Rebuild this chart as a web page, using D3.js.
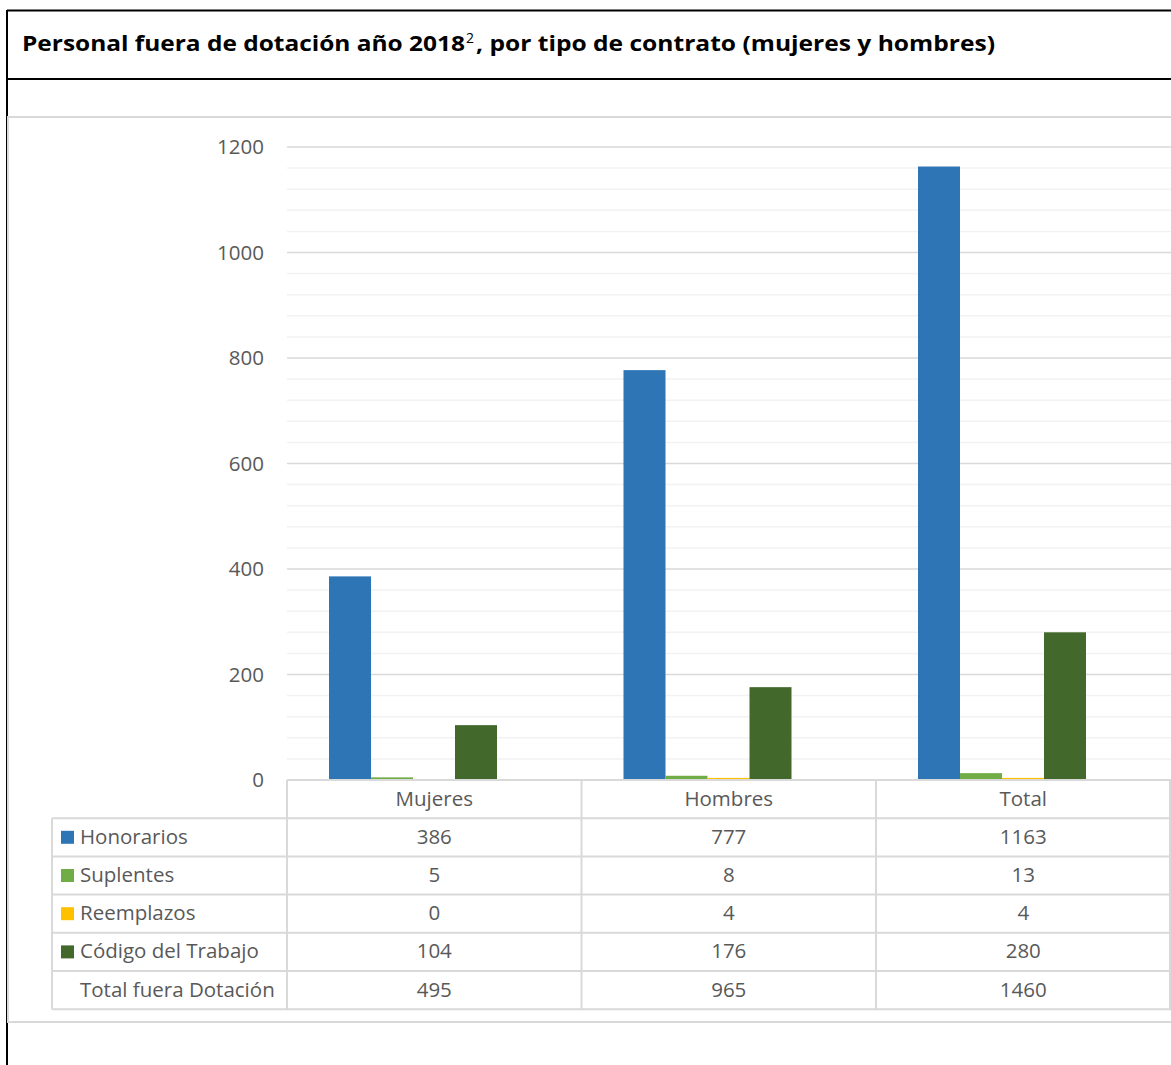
<!DOCTYPE html>
<html><head><meta charset="utf-8">
<script src="https://cdn.jsdelivr.net/npm/d3@7"></script>
<style>
html,body{margin:0;padding:0;background:#fff;}
svg{display:block;}
text{font-family:"Open Sans",Lato,sans-serif;}
</style></head>
<body>
<svg id="c" width="1171" height="1065"></svg>
<script>
const categories = ["Mujeres", "Hombres", "Total"];
const seriesNames = ["Honorarios", "Suplentes", "Reemplazos", "Código del Trabajo"];
const honorarios = [386, 777, 1163];
const suplentes = [5, 8, 13];
const reemplazos = [0, 4, 4];
const codigoTrabajo = [104, 176, 280];
const totalFuera = [495, 965, 1460];
const totalLabel = "Total fuera Dotación";
const yTickValues = [0, 200, 400, 600, 800, 1000, 1200];
const minorStep = 40;
const seriesColors = ["#2E75B6", "#70AD47", "#FFC000", "#43682B"];

const seriesValues = [honorarios, suplentes, reemplazos, codigoTrabajo];
const FONT = "'Open Sans',Lato,sans-serif";
const bodySize = 20.5;

const svg = d3.select("#c");

// outer frame
svg.append("line").attr("x1", 7).attr("x2", 1171).attr("y1", 10.5).attr("y2", 10.5).attr("stroke", "#000").attr("stroke-width", 2);
svg.append("line").attr("x1", 7).attr("x2", 1171).attr("y1", 79).attr("y2", 79).attr("stroke", "#000").attr("stroke-width", 2);
svg.append("line").attr("x1", 7).attr("x2", 7).attr("y1", 10).attr("y2", 1065).attr("stroke", "#000").attr("stroke-width", 2);

// chart area
svg.append("rect").attr("x", 8).attr("y", 117).attr("width", 1170).attr("height", 905)
  .attr("fill", "#fff").attr("stroke", "#d9d9d9").attr("stroke-width", 2);

// title
svg.append("text").attr("x", 22).attr("y", 51).attr("font-size", 22).attr("font-weight", "bold").attr("fill", "#000")
  .attr("textLength", 443).attr("lengthAdjust", "spacingAndGlyphs")
  .text("Personal fuera de dotación año 2018");
svg.append("text").attr("x", 466).attr("y", 43).attr("font-size", 14).attr("fill", "#000")
  .attr("textLength", 8).attr("lengthAdjust", "spacingAndGlyphs").text("2");
svg.append("text").attr("x", 476).attr("y", 51).attr("font-size", 22).attr("font-weight", "bold").attr("fill", "#000")
  .attr("textLength", 519).attr("lengthAdjust", "spacingAndGlyphs")
  .text(", por tipo de contrato (mujeres y hombres)");

const plotLeft = 287, plotRight = 1171;
const x = d3.scaleBand().domain(categories).range([plotLeft, 1170.5]);
const y = d3.scaleLinear().domain([0, 1200]).range([780, 147]);
const barW = 42;
const x1 = d3.scaleBand().domain(seriesNames).range([barW, barW * 5]);

// minor gridlines
svg.append("g").selectAll("line").data(d3.range(0, 1201, minorStep).filter(v => v % 200 !== 0))
  .join("line").attr("x1", plotLeft).attr("x2", plotRight).attr("y1", d => y(d)).attr("y2", d => y(d))
  .attr("stroke", "#f2f2f2").attr("stroke-width", 1.5);
// major gridlines
svg.append("g").selectAll("line").data(yTickValues)
  .join("line").attr("x1", plotLeft).attr("x2", plotRight).attr("y1", d => y(d)).attr("y2", d => y(d))
  .attr("stroke", "#d9d9d9").attr("stroke-width", 1.5);

// y axis
const yAxis = svg.append("g").attr("transform", `translate(${plotLeft},0)`)
  .call(d3.axisLeft(y).tickValues(yTickValues).tickFormat(d3.format("d")).tickSize(0).tickPadding(23));
yAxis.select(".domain").remove();
yAxis.selectAll("text").attr("font-size", bodySize).attr("fill", "#595959").attr("font-family", FONT);

// bars
const groups = svg.append("g").selectAll("g").data(categories).join("g")
  .attr("transform", d => `translate(${x(d)},0)`);
groups.selectAll("rect").data((c, ci) => seriesNames.map((s, si) => ({ s, si, v: seriesValues[si][ci] })))
  .join("rect")
  .attr("x", d => x1(d.s)).attr("width", x1.bandwidth())
  .attr("y", d => y(d.v)).attr("height", d => y(0) - y(d.v))
  .attr("fill", d => seriesColors[d.si]);

// data table
const rowH = 38.2;
const tableTop = 780;
const legendLeft = 52;
const gridColor = "#d9d9d9";
const tg = svg.append("g");
const nRows = seriesNames.length + 1;
const tableBottom = tableTop + rowH * (nRows + 1);
tg.append("line").attr("x1", plotLeft).attr("x2", plotRight).attr("y1", tableTop).attr("y2", tableTop).attr("stroke", gridColor).attr("stroke-width", 2);
for (let i = 1; i <= nRows + 1; i++) {
  const yy = tableTop + rowH * i;
  tg.append("line").attr("x1", legendLeft).attr("x2", plotRight).attr("y1", yy).attr("y2", yy).attr("stroke", gridColor).attr("stroke-width", 2);
}
tg.append("line").attr("x1", legendLeft).attr("x2", legendLeft).attr("y1", tableTop + rowH).attr("y2", tableBottom).attr("stroke", gridColor).attr("stroke-width", 2);
categories.forEach(c => {
  tg.append("line").attr("x1", x(c)).attr("x2", x(c)).attr("y1", tableTop).attr("y2", tableBottom).attr("stroke", gridColor).attr("stroke-width", 2);
});
tg.append("line").attr("x1", plotRight - 1).attr("x2", plotRight - 1).attr("y1", tableTop).attr("y2", tableBottom).attr("stroke", gridColor).attr("stroke-width", 2);

tg.selectAll("text.hdr").data(categories).join("text").attr("class", "hdr")
  .attr("x", d => x(d) + x.bandwidth() / 2).attr("y", tableTop + rowH / 2 + 7)
  .attr("text-anchor", "middle").attr("font-size", bodySize).attr("fill", "#595959").text(d => d);

const rows = seriesNames.map((s, si) => ({ label: s, color: seriesColors[si], vals: seriesValues[si] }));
rows.push({ label: totalLabel, color: null, vals: totalFuera });
rows.forEach((r, ri) => {
  const cy = tableTop + rowH * (ri + 1) + rowH / 2;
  if (r.color) tg.append("rect").attr("x", 61).attr("y", cy - 6.5).attr("width", 13).attr("height", 13).attr("fill", r.color);
  tg.append("text").attr("x", 80).attr("y", cy + 6.5).attr("font-size", bodySize).attr("fill", "#595959").text(r.label);
  categories.forEach((c, ci) => {
    tg.append("text").attr("x", x(c) + x.bandwidth() / 2).attr("y", cy + 6.5).attr("text-anchor", "middle")
      .attr("font-size", bodySize).attr("fill", "#595959").text(r.vals[ci]);
  });
});
</script>
</body></html>
